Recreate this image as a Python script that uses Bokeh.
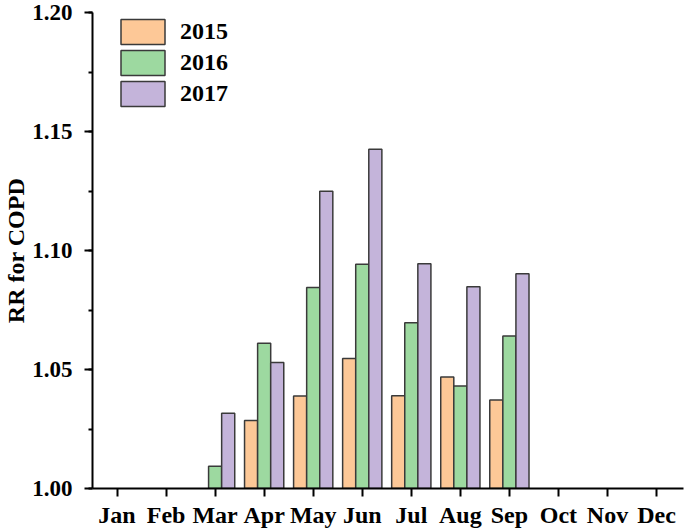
from bokeh.plotting import figure
from bokeh.models import (ColumnDataSource, Range1d, FixedTicker, SingleIntervalTicker,
                          NumeralTickFormatter, Legend, LegendItem)
from bokeh.embed import file_html
from bokeh.resources import INLINE

months = ["Jan", "Feb", "Mar", "Apr", "May", "Jun", "Jul", "Aug", "Sep", "Oct", "Nov", "Dec"]
years = ["2015", "2016", "2017"]
rr_2015 = [None, None, None, 1.0286, 1.0389, 1.0546, 1.0390, 1.0469, 1.0372, None, None, None]
rr_2016 = [None, None, 1.0093, 1.0610, 1.0845, 1.0942, 1.0696, 1.0431, 1.0641, None, None, None]
rr_2017 = [None, None, 1.0316, 1.0529, 1.1249, 1.1426, 1.0944, 1.0848, 1.0902, None, None, None]
colors = ["#FDC897", "#9DD9A0", "#C4B4DA"]

FONT = "Liberation Serif"

p = figure(width=685, height=531, output_backend="svg", toolbar_location=None,
           x_range=Range1d(0.5, 12.55), y_range=Range1d(1.0, 1.20001),
           min_border_left=90, min_border_right=2, min_border_top=12, min_border_bottom=43)
p.outline_line_color = None
p.xgrid.grid_line_color = None
p.ygrid.grid_line_color = None

bw = 0.8 / 3
offsets = [-bw, 0.0, bw]
renderers = []
for series, off, col in zip([rr_2015, rr_2016, rr_2017], offsets, colors):
    xs = [i + 1 + off for i, v in enumerate(series) if v is not None]
    tops = [v for v in series if v is not None]
    src = ColumnDataSource(dict(x=xs, top=tops))
    r = p.vbar(x="x", top="top", bottom=1.0, width=bw, source=src,
               fill_color=col, line_color="#3a3a3a", line_width=1.5)
    renderers.append(r)

legend = Legend(items=[LegendItem(label=y, renderers=[r]) for y, r in zip(years, renderers)],
                location=(23, 379), orientation="vertical")
legend.glyph_width = 55
legend.glyph_height = 31
legend.label_height = 31
legend.spacing = 0
legend.padding = 0
legend.margin = 0
legend.label_standoff = 10
legend.border_line_color = None
legend.background_fill_alpha = 0
legend.label_text_font = FONT
legend.label_text_font_style = "bold"
legend.label_text_font_size = "24px"
legend.label_text_color = "black"
p.add_layout(legend, "center")

xa = p.xaxis[0]
ya = p.yaxis[0]
for ax in [xa, ya]:
    ax.axis_line_width = 2
    ax.axis_line_color = "black"
    ax.major_tick_line_width = 2
    ax.major_tick_line_color = "black"
    ax.major_tick_in = 0
    ax.major_tick_out = 8
    ax.major_label_text_font = FONT
    ax.major_label_text_font_style = "bold"
    ax.major_label_text_color = "black"

xa.ticker = FixedTicker(ticks=list(range(1, 13)))
xa.major_label_overrides = {i + 1: m for i, m in enumerate(months)}
xa.minor_tick_line_color = None
xa.major_label_standoff = 5
xa.major_label_text_font_size = "24px"

ya.ticker = SingleIntervalTicker(interval=0.05, num_minor_ticks=2)
ya.formatter = NumeralTickFormatter(format="0.00")
ya.minor_tick_line_width = 2
ya.minor_tick_line_color = "black"
ya.minor_tick_in = 0
ya.minor_tick_out = 4
ya.major_label_standoff = 12
ya.major_label_text_font_size = "23px"
ya.axis_label = "RR for COPD"
ya.axis_label_text_font = FONT
ya.axis_label_text_font_style = "bold"
ya.axis_label_text_font_size = "24px"
ya.axis_label_text_color = "black"
ya.axis_label_standoff = 0

open("out.html", "w").write(file_html(p, INLINE))
